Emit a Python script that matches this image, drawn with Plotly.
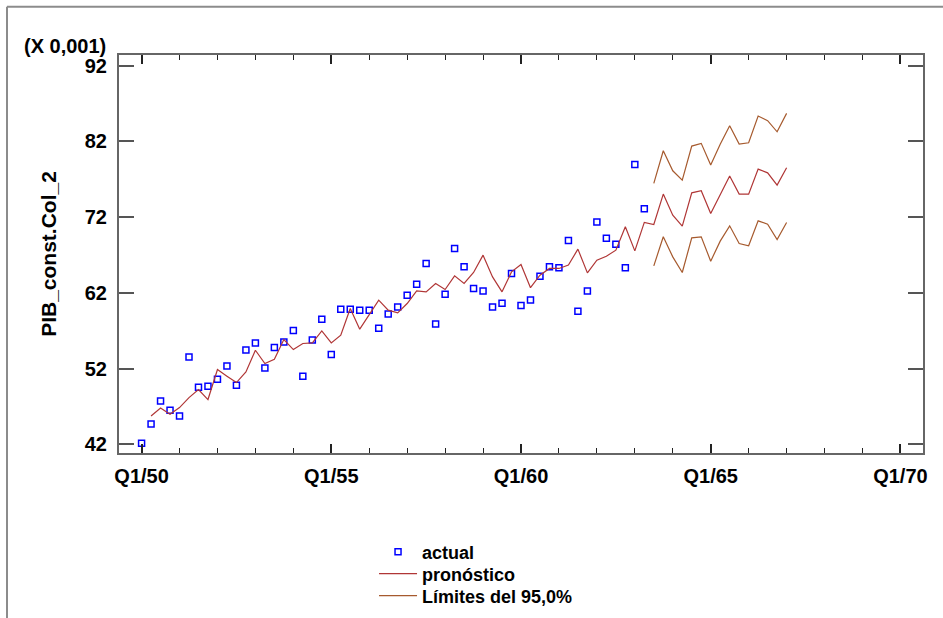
import plotly.graph_objects as go

# ---- data (values in units of 0.001) ----
start_quarter = 0  # index 0 = Q1/50
actual = [42.13, 44.68, 47.72, 46.49, 45.74, 53.54, 49.53, 49.66, 50.59, 52.35,
          49.80, 54.46, 55.39, 52.08, 54.78, 55.52, 57.03, 50.99, 55.78, 58.52,
          53.85, 59.84, 59.84, 59.71, 59.71, 57.33, 59.22, 60.14, 61.69, 63.14,
          65.88, 57.90, 61.82, 67.86, 65.43, 62.58, 62.26, 60.14, 60.63, 64.56,
          60.33, 61.07, 64.20, 65.43, 65.30, 68.92, 59.58, 62.26, 71.34, 69.22,
          68.43, 65.30, 78.96, 73.10]
fitted = [45.74, 46.80, 45.96, 46.85, 48.17, 49.23, 47.91, 51.87, 50.99,
          50.15, 51.55, 54.42, 52.66, 53.23, 55.84, 54.51, 55.31, 55.39, 56.97,
          55.39, 56.40, 59.93, 57.20, 59.05, 61.03, 59.71, 59.35, 60.59, 62.26,
          62.13, 63.24, 62.44, 64.24, 63.24, 64.69, 66.98, 64.11, 62.13, 64.77,
          65.75, 62.68, 64.33, 65.22, 65.22, 65.66, 67.77, 64.64, 66.32, 66.84,
          67.64, 70.72, 67.54, 71.30]
forecast = [71.03, 75.04, 72.26, 70.81, 75.21, 75.48, 72.49, 75.00, 77.42,
            75.04, 75.04, 78.34, 77.85, 76.23, 78.51]
upper = [76.45, 80.76, 78.12, 76.89, 81.38, 81.74, 78.87, 81.61, 84.07,
         81.65, 81.82, 85.35, 84.73, 83.27, 85.70]
lower = [65.56, 69.40, 66.75, 64.69, 69.26, 69.40, 66.18, 68.83, 70.85,
         68.52, 68.21, 71.51, 71.07, 69.05, 71.30]
x_tick_vals = [0, 20, 40, 60, 80]
x_tick_text = ["Q1/50", "Q1/55", "Q1/60", "Q1/65", "Q1/70"]
y_tick_vals = [42, 52, 62, 72, 82, 92]

# quarter indices
x_actual = list(range(start_quarter, start_quarter + len(actual)))
x_fit = list(range(start_quarter + 1, start_quarter + 1 + len(fitted)))
f0 = x_fit[-1] + 1
x_fc = list(range(f0, f0 + len(forecast)))

RED = "#B03636"
BROWN = "#A65A2E"
FONT = "Liberation Sans, Arial, sans-serif"

fig = go.Figure()
fig.add_trace(go.Scatter(
    x=x_actual, y=actual, mode="markers", name="actual", legend="legend",
    marker=dict(symbol="square-open", size=6, color="#0000FF",
                line=dict(width=1.5, color="#0000FF"))))
fig.add_trace(go.Scatter(
    x=x_fit + x_fc, y=fitted + forecast, mode="lines", name="pronóstico",
    legend="legend2", line=dict(color=RED, width=1.2)))
fig.add_trace(go.Scatter(
    x=x_fc, y=upper, mode="lines", name="Límites del 95,0%", legend="legend3",
    legendgroup="lim", line=dict(color=BROWN, width=1.2)))
fig.add_trace(go.Scatter(
    x=x_fc, y=lower, mode="lines", name="Límites del 95,0%", legend="legend3",
    legendgroup="lim", showlegend=False, line=dict(color=BROWN, width=1.2)))

axis_common = dict(showgrid=False, zeroline=False, showline=True,
                   linecolor="#666666", linewidth=2, mirror="ticks",
                   tickfont=dict(family=FONT, size=20, color="#000000", weight="bold"))

fig.update_xaxes(range=[-2.38, 82.38], tickmode="array", tickvals=x_tick_vals,
                 ticktext=x_tick_text, ticks="inside", ticklen=9, tickwidth=1.5,
                 tickcolor="#222222", ticklabelstandoff=4,
                 minor=dict(dtick=4, tick0=0, ticks="inside", ticklen=5,
                            tickwidth=1.2, tickcolor="#222222"),
                 **axis_common)
fig.update_yaxes(range=[40.85, 93.41], tickmode="array", tickvals=y_tick_vals,
                 ticks="inside", ticklen=15, tickwidth=1.5, tickcolor="#555555",
                 ticklabelstandoff=6,
                 title=dict(text="PIB_const.Col_2", standoff=22,
                            font=dict(family=FONT, size=21, color="#000000", weight="bold")),
                 **axis_common)

fig.add_annotation(text="(X 0,001)", xref="paper", yref="paper",
                   x=-0.014, y=1.022, xanchor="right", yanchor="middle",
                   showarrow=False,
                   font=dict(family=FONT, size=20, color="#000000", weight="bold"))

# outer window frame (top and left)
fig.add_shape(type="line", xref="paper", yref="paper", x0=-0.1393, x1=1.03,
              y0=1.1214, y1=1.1214, line=dict(color="#8C8C8C", width=2))
fig.add_shape(type="line", xref="paper", yref="paper", x0=-0.1393, x1=-0.1393,
              y0=1.1214, y1=-0.42, line=dict(color="#8C8C8C", width=2))

legend_common = dict(x=0.3172, xanchor="left", yanchor="middle", itemwidth=38,
                     bgcolor="rgba(0,0,0,0)",
                     font=dict(family=FONT, size=18, color="#000000", weight="bold"))

fig.update_layout(
    width=943, height=618,
    margin=dict(l=119, r=20, t=55, b=165, autoexpand=False),
    paper_bgcolor="#FFFFFF", plot_bgcolor="#FFFFFF",
    showlegend=True,
    legend=dict(y=-0.2487, **legend_common),
    legend2=dict(y=-0.3040, **legend_common),
    legend3=dict(y=-0.3593, **legend_common),
)

fig.write_html("out.html", config={"displayModeBar": False},
               post_script="document.body.style.margin='0';document.body.style.overflow='hidden';")
